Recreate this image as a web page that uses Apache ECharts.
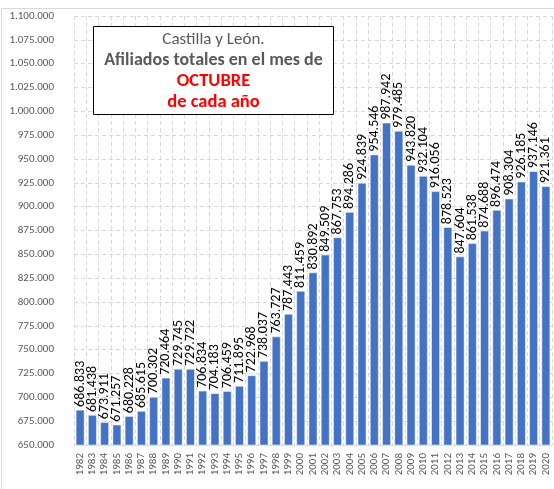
<!DOCTYPE html>
<html>
<head>
<meta charset="utf-8">
<script src="https://cdn.jsdelivr.net/npm/echarts@6/dist/echarts.min.js"></script>
<style>
    html, body { margin: 0; padding: 0; background: #fff; }
    #chart { width: 554px; height: 489px; }
</style>
</head>
<body>
<div id="chart"></div>
<script>
// afiliados en octubre, Castilla y León
var years = ['1982', '1983', '1984', '1985', '1986', '1987', '1988', '1989', '1990', '1991',
    '1992', '1993', '1994', '1995', '1996', '1997', '1998', '1999', '2000', '2001',
    '2002', '2003', '2004', '2005', '2006', '2007', '2008', '2009', '2010', '2011',
    '2012', '2013', '2014', '2015', '2016', '2017', '2018', '2019', '2020'];
var afiliados = [686833, 681438, 673911, 671257, 680228, 685615, 700302, 720464, 729745, 729722,
    706834, 704183, 706459, 711895, 722968, 738037, 763727, 787443, 811459, 830892,
    849509, 867753, 894286, 924839, 954546, 987942, 979485, 943820, 932104, 916056,
    878523, 847604, 861538, 874688, 896474, 908304, 926185, 937146, 921361];
var yMin = 650000, yMax = 1100000, yStep = 25000;

function miles(v){
    return String(v).replace(/\B(?=(\d{3})+(?!\d))/g, '.');
}

var chart = echarts.init(document.getElementById('chart'));
var font = 'Carlito, "Liberation Sans", "Noto Sans", sans-serif';

chart.setOption({
    animation: false,
    textStyle: { fontFamily: font },
    graphic: [{
        type: 'rect',
        shape: { x: 1.5, y: 8.5, width: 600, height: 600 },
        style: { fill: 'none', stroke: '#d9d9d9', lineWidth: 1 },
        z: -1
    }],
    title: {
        text: '{a|Castilla y León.}\n{b|Afiliados totales en el mes de}\n{c|OCTUBRE}\n{c|de cada año}',
        left: 93,
        top: 24,
        padding: [5, 5, 3, 5],
        borderColor: '#000',
        borderWidth: 1,
        backgroundColor: '#fff',
        textStyle: {
            fontFamily: font,
            align: 'center',
            rich: {
                a: { fontSize: 17, fontWeight: 'normal', color: '#595959', lineHeight: 21, fontFamily: font, width: 231, align: 'center' },
                b: { fontSize: 18, fontWeight: 'bold', color: '#595959', lineHeight: 21, fontFamily: font, width: 231, align: 'center' },
                c: { fontSize: 18.5, fontWeight: 'bold', color: '#ff0000', lineHeight: 21, fontFamily: font, width: 231, align: 'center' }
            }
        }
    },
    grid: { left: 74, right: 2, top: 16, bottom: 44 },
    xAxis: {
        type: 'category',
        data: years,
        axisLine: { lineStyle: { color: '#d9d9d9' } },
        axisTick: { show: false },
        axisLabel: { interval: 0, rotate: 90, color: '#595959', fontSize: 11, margin: 8 },
        splitLine: { show: true, lineStyle: { color: '#d9d9d9', type: [4, 3] } }
    },
    yAxis: {
        type: 'value',
        min: yMin,
        max: yMax,
        interval: yStep,
        axisLine: { show: false },
        axisTick: { show: false },
        axisLabel: { color: '#595959', fontSize: 11, margin: 20, formatter: miles },
        splitLine: { lineStyle: { color: '#d9d9d9', type: [4, 3] } }
    },
    series: [{
        type: 'bar',
        data: afiliados,
        barCategoryGap: '30%',
        itemStyle: { color: '#4472c4', borderColor: '#fff', borderWidth: 0.5 },
        label: {
            show: true,
            position: 'top',
            rotate: 90,
            align: 'left',
            verticalAlign: 'middle',
            distance: 3,
            color: '#000',
            fontSize: 14,
            formatter: function(p){ return miles(p.value); }
        }
    }]
});
</script>
</body>
</html>
